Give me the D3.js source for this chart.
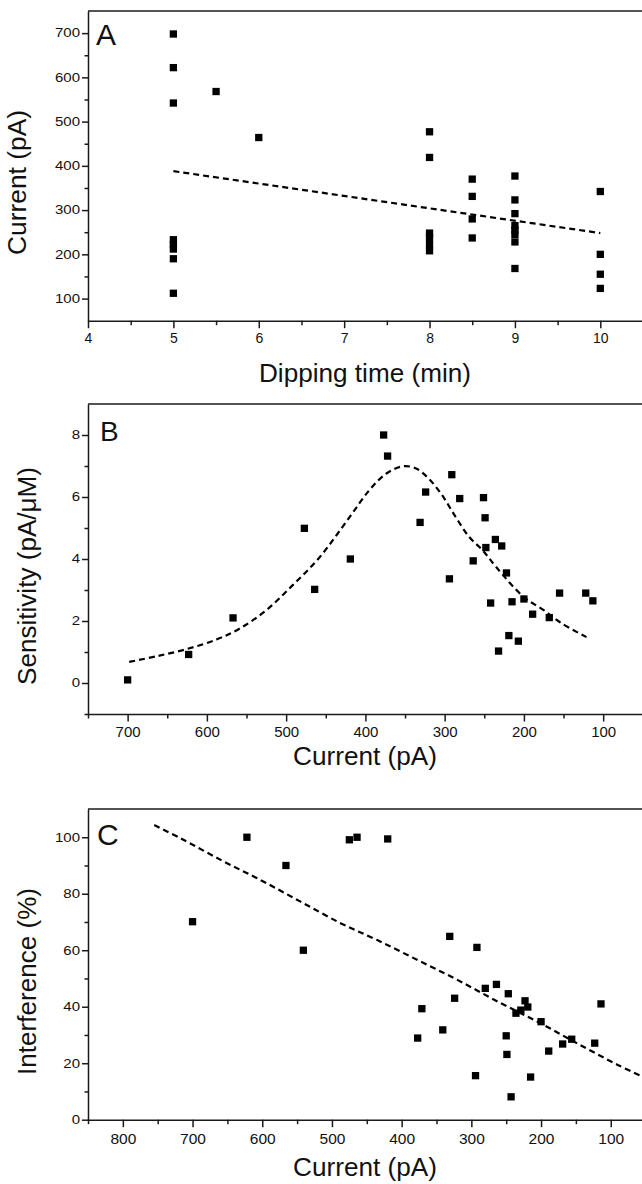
<!DOCTYPE html>
<html>
<head>
<meta charset="utf-8">
<style>
body { margin: 0; background: #fff; }
svg { display: block; font-family: "Liberation Sans", Arial, sans-serif; }
.axis path, .axis line { stroke: #1a1a1a; stroke-width: 1.5; fill: none; }
.axis text { fill: #111; }
</style>
</head>
<body>
<svg width="642" height="1184"></svg>
<script src="https://cdn.jsdelivr.net/npm/d3@7"></script>
<script>
// ---- panel A : current vs dipping time
var dipTime    = [5, 5, 5, 5, 5, 5, 5, 5, 5.5, 6, 8, 8, 8, 8, 8, 8, 8.5, 8.5, 8.5, 8.5, 9, 9, 9, 9, 9, 9, 9, 9, 10, 10, 10, 10];
var dipCurrent = [698, 622, 542, 233, 222, 212, 190, 112, 568, 464, 477, 419, 248, 238, 222, 208, 370, 331, 280, 237, 377, 323, 292, 265, 255, 245, 228, 168, 342, 200, 155, 123];
var fitA_x = [5, 10];
var fitA_y = [388, 248];

// ---- panel B : sensitivity vs current
var sensCurrent = [700, 623, 567, 477, 464, 419, 377, 372, 331, 324, 294, 291, 281, 264, 251, 249, 248, 242, 236, 228, 232, 222, 219, 215, 207, 200, 189, 168, 155, 122, 113];
var sensitivity = [0.1, 0.92, 2.1, 4.99, 3.02, 4.0, 8.0, 7.32, 5.18, 6.16, 3.36, 6.72, 5.95, 3.94, 5.98, 5.33, 4.37, 2.58, 4.63, 4.42, 1.03, 3.55, 1.53, 2.62, 1.35, 2.71, 2.22, 2.11, 2.9, 2.9, 2.65];
var fitB_x = [698, 664, 626, 588, 559, 525, 492, 458, 420, 395, 374, 353, 336, 320, 303, 286, 269, 252, 235, 200, 175, 152, 121];
var fitB_y = [0.68, 0.86, 1.09, 1.40, 1.75, 2.35, 3.15, 4.05, 5.35, 6.22, 6.75, 6.99, 6.92, 6.59, 6.05, 5.35, 4.71, 4.28, 3.74, 2.77, 2.35, 1.92, 1.48];

// ---- panel C : interference vs current
var intCurrent   = [700, 622, 566, 541, 475, 464, 420, 377, 371, 341, 331, 324, 294, 292, 280, 264, 250, 249, 247, 243, 236, 229, 223, 219, 215, 200, 189, 169, 156, 123, 114];
var interference = [70.1, 100, 90, 60, 99.1, 100, 99.4, 28.9, 39.3, 31.8, 64.9, 43, 15.6, 61, 46.5, 47.9, 29.7, 23.1, 44.6, 8.1, 37.7, 38.8, 42.1, 39.9, 15.1, 34.7, 24.3, 26.8, 28.5, 27.1, 41];
var fitC_x = [755, 717, 659, 602, 545, 487, 435, 377, 320, 262, 205, 148, 90, 54];
var fitC_y = [104.3, 99.6, 91.9, 84.8, 77.2, 69.5, 63.6, 56.5, 49.5, 41.8, 34.7, 27, 19.4, 15.2];

// tick values
var ticksA_x = [4, 5, 6, 7, 8, 9, 10], minorA_x = [4.5, 5.5, 6.5, 7.5, 8.5, 9.5, 10.5];
var ticksA_y = [100, 200, 300, 400, 500, 600, 700], minorA_y = [150, 250, 350, 450, 550, 650];
var ticksB_x = [700, 600, 500, 400, 300, 200, 100], minorB_x = [750, 650, 550, 450, 350, 250, 150];
var ticksB_y = [0, 2, 4, 6, 8], minorB_y = [-1, 1, 3, 5, 7];
var ticksC_x = [800, 700, 600, 500, 400, 300, 200, 100], minorC_x = [850, 750, 650, 550, 450, 350, 250, 150];
var ticksC_y = [0, 20, 40, 60, 80, 100], minorC_y = [10, 30, 50, 70, 90];

var svg = d3.select("svg");
var left = 88;
var fmt = d3.format("d");

function panel(c) {
  var g = svg.append("g");
  var x = d3.scaleLinear().domain(c.xDomain).range([left, c.right]);
  var y = d3.scaleLinear().domain(c.yDomain).range([c.bottom, c.top]);

  // top frame
  g.append("line")
    .attr("x1", left).attr("x2", 650).attr("y1", c.top).attr("y2", c.top)
    .attr("stroke", "#1a1a1a").attr("stroke-width", 1.5);

  // minor ticks
  var mx = g.append("g").attr("class", "axis")
    .attr("transform", "translate(0," + c.bottom + ")")
    .call(d3.axisBottom(x).tickValues(c.xMinor).tickSize(4.5).tickFormat(""));
  mx.select(".domain").remove();
  var my = g.append("g").attr("class", "axis")
    .attr("transform", "translate(" + left + ",0)")
    .call(d3.axisLeft(y).tickValues(c.yMinor).tickSize(3.5).tickFormat(""));
  my.select(".domain").remove();

  // major axes
  var ax = g.append("g").attr("class", "axis")
    .attr("transform", "translate(0," + c.bottom + ")")
    .call(d3.axisBottom(x).tickValues(c.xTicks).tickFormat(fmt)
      .tickSize(7.5).tickSizeOuter(0).tickPadding(c.xPad));
  ax.selectAll("text").attr("font-size", c.xFont);

  var ay = g.append("g").attr("class", "axis")
    .attr("transform", "translate(" + left + ",0)")
    .call(d3.axisLeft(y).tickValues(c.yTicks).tickFormat(fmt).tickSize(6).tickSizeOuter(0));
  ay.selectAll("text")
    .attr("font-size", 15)
    .attr("x", -8)
    .attr("transform", "scale(1,0.8)");

  // fit line
  var line = d3.line()
    .x(function(d) { return x(d[0]); })
    .y(function(d) { return y(d[1]); })
    .curve(c.curve);
  g.append("path")
    .datum(d3.zip(c.fitX, c.fitY))
    .attr("d", line)
    .attr("fill", "none")
    .attr("stroke", "#000")
    .attr("stroke-width", 2.2)
    .attr("stroke-dasharray", "6,4");

  // points
  var s = 7.3;
  g.selectAll("rect.pt")
    .data(d3.zip(c.px, c.py))
    .join("rect")
    .attr("class", "pt")
    .attr("x", function(d) { return x(d[0]) - s / 2; })
    .attr("y", function(d) { return y(d[1]) - s / 2; })
    .attr("width", s).attr("height", s)
    .attr("fill", "#000");

  // titles
  g.append("text")
    .attr("transform", "translate(" + c.yTitle.x + "," + c.yTitle.y + ") rotate(-90)")
    .attr("text-anchor", "middle")
    .attr("font-size", 25)
    .attr("textLength", c.yTitle.len).attr("lengthAdjust", "spacingAndGlyphs")
    .attr("fill", "#111")
    .text(c.yTitle.text);
  g.append("text")
    .attr("x", 365).attr("y", c.xTitle.y)
    .attr("text-anchor", "middle")
    .attr("font-size", 25)
    .attr("textLength", c.xTitle.len).attr("lengthAdjust", "spacingAndGlyphs")
    .attr("fill", "#111")
    .text(c.xTitle.text);
  g.append("text")
    .attr("x", c.letter.x).attr("y", c.letter.y)
    .attr("font-size", c.letter.size)
    .attr("fill", "#111")
    .text(c.letter.text);
}

panel({
  xDomain: [4, 10.5], right: 643, yDomain: [50, 750], top: 11, bottom: 320.7,
  xTicks: ticksA_x, xMinor: minorA_x, yTicks: ticksA_y, yMinor: minorA_y,
  xFont: 14, xPad: 5,
  px: dipTime, py: dipCurrent, fitX: fitA_x, fitY: fitA_y, curve: d3.curveLinear,
  yTitle: {text: "Current (pA)", x: 26, y: 182.5, len: 145},
  xTitle: {text: "Dipping time (min)", y: 381.7, len: 212},
  letter: {text: "A", x: 96, y: 45, size: 30}
});

panel({
  xDomain: [750, 50], right: 642.8, yDomain: [-1, 9], top: 404, bottom: 714,
  xTicks: ticksB_x, xMinor: minorB_x, yTicks: ticksB_y, yMinor: minorB_y,
  xFont: 15, xPad: 5,
  px: sensCurrent, py: sensitivity, fitX: fitB_x, fitY: fitB_y, curve: d3.curveCatmullRom,
  yTitle: {text: "Sensitivity (pA/\u03bcM)", x: 36, y: 576, len: 218},
  xTitle: {text: "Current (pA)", y: 765, len: 144},
  letter: {text: "B", x: 100, y: 440.7, size: 28}
});

panel({
  xDomain: [850, 50], right: 645.6, yDomain: [0, 110], top: 809, bottom: 1119.7,
  xTicks: ticksC_x, xMinor: minorC_x, yTicks: ticksC_y, yMinor: minorC_y,
  xFont: 15.5, xPad: 6,
  px: intCurrent, py: interference, fitX: fitC_x, fitY: fitC_y, curve: d3.curveCatmullRom,
  yTitle: {text: "Interference (%)", x: 36, y: 981.5, len: 187},
  xTitle: {text: "Current (pA)", y: 1176, len: 144},
  letter: {text: "C", x: 97, y: 845, size: 30}
});
</script>
</body>
</html>
